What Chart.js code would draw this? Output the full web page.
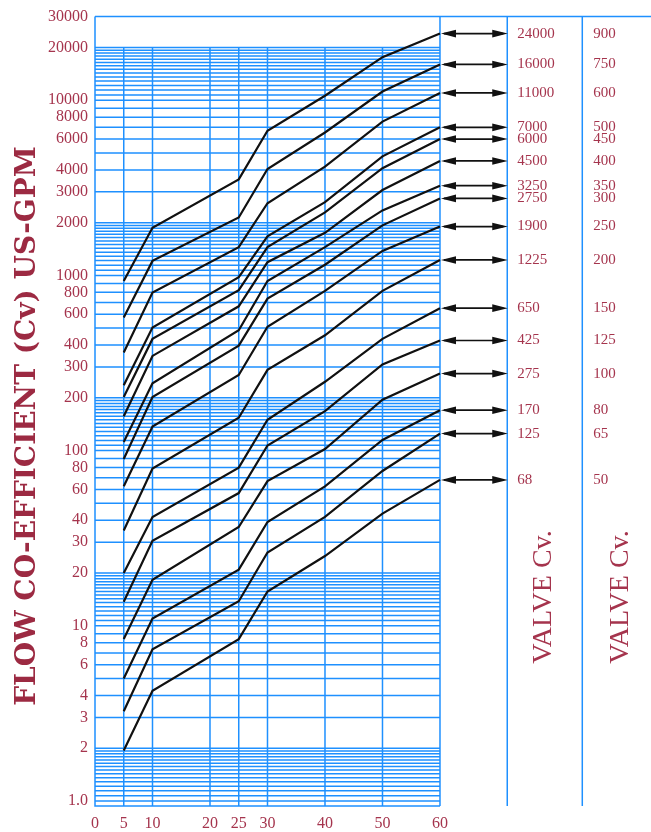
<!DOCTYPE html>
<html>
<head>
<meta charset="utf-8">
<script src="https://cdn.jsdelivr.net/npm/chart.js@4.4.1/dist/chart.umd.min.js"></script>
<style>
  html, body { margin: 0; padding: 0; background: #ffffff; }
  #wrap { width: 651px; height: 832px; position: relative; }
</style>
</head>
<body>
<div id="wrap"><canvas id="chart"></canvas></div>
<script>
// ---------------- DATA ----------------
const xPositions   = [5, 10, 25, 30, 40, 50, 60];
const xTickValues  = [0, 5, 10, 20, 25, 30, 40, 50, 60];
const yTickValues  = [1, 2, 3, 4, 6, 8, 10, 20, 30, 40, 60, 80, 100, 200, 300, 400, 600, 800,
                      1000, 2000, 3000, 4000, 6000, 8000, 10000, 20000, 30000];
const valveSizes   = [900, 750, 600, 500, 450, 400, 350, 300, 250, 200, 150, 125, 100, 80, 65, 50];
const valveCv      = [24000, 16000, 11000, 7000, 6000, 4500, 3250, 2750, 1900, 1225, 650, 425, 275, 170, 125, 68];

const cv900 = [930, 1870, 3530, 6690, 10600, 17600, 24000];
const cv750 = [574, 1210, 2140, 4050, 6540, 11200, 16000];
const cv600 = [363, 798, 1450, 2580, 4180, 7550, 11000];
const cv500 = [236, 504, 977, 1670, 2620, 4780, 7000];
const cv450 = [202, 434, 824, 1450, 2290, 4090, 6000];
const cv400 = [157, 347, 666, 1190, 1750, 3070, 4500];
const cv350 = [112, 242, 486, 928, 1450, 2350, 3250];
const cv300 = [89.5, 202, 397, 737, 1150, 1930, 2750];
const cv250 = [62.5, 137, 270, 509, 816, 1380, 1900];
const cv200 = [35, 79, 154, 289, 455, 816, 1225];
const cv150 = [20, 41.8, 79.9, 150, 247, 434, 650];
const cv125 = [13.7, 30.6, 57.2, 107, 168, 310, 425];
const cv100 = [8.4, 18.3, 36.6, 66.9, 102, 195, 275];
const cv80  = [5.0, 11.0, 20.9, 39.1, 62.5, 115, 170];
const cv65  = [3.25, 7.33, 13.8, 26.2, 41.8, 76.5, 125];
const cv50  = [1.94, 4.26, 8.39, 15.7, 25.0, 43.7, 68];

const seriesValues = [cv900, cv750, cv600, cv500, cv450, cv400, cv350, cv300,
                      cv250, cv200, cv150, cv125, cv100, cv80, cv65, cv50];

// ---------------- STYLE / LAYOUT ----------------
const BLUE = '#1e90ff';
const RED = '#a5344d';
const TITLE_RED = '#9c2a42';
const Y_MIN = 0.936, Y_MAX = 30000;
const X_MAX = 96.7;            // extends the plot to include the right-hand panel
const PANEL_X = [71.7, 84.75]; // panel dividers in x units
const GRID_TOP_VALUE = 20000;
const interiorVerticals = [5, 10, 20, 25, 30, 40, 50];
const DENSE = 14;

// log graph-paper rulings
const gridValues = [];
[1, 10, 100, 1000, 10000].forEach(d => {
  for (let k = 0; k <= DENSE; k++) gridValues.push(d * (1 + k / DENSE));
  if (d < 10000) for (let m = 3; m <= 9; m++) gridValues.push(d * m);
});

const serifTick = { family: '"Liberation Serif", "Times New Roman", serif', size: 16 };

const paperPlugin = {
  id: 'paper',
  beforeDatasetsDraw(chart) {
    const { ctx, chartArea: a, scales: { x, y } } = chart;
    const x0 = x.getPixelForValue(0), x60 = x.getPixelForValue(60);
    const yTop = y.getPixelForValue(Y_MAX), yBot = a.bottom;
    const yGridTop = y.getPixelForValue(GRID_TOP_VALUE);
    ctx.save();
    ctx.strokeStyle = BLUE;
    ctx.lineWidth = 1.5;
    ctx.beginPath();
    gridValues.forEach(v => {
      const py = y.getPixelForValue(v);
      ctx.moveTo(x0, py); ctx.lineTo(x60, py);
    });
    interiorVerticals.forEach(v => {
      const px = x.getPixelForValue(v);
      ctx.moveTo(px, yGridTop); ctx.lineTo(px, yBot);
    });
    ctx.moveTo(x0, yTop); ctx.lineTo(a.right, yTop);
    ctx.moveTo(x0, yTop); ctx.lineTo(x0, yBot); ctx.lineTo(x60, yBot);
    ctx.moveTo(x60, yTop); ctx.lineTo(x60, yBot);
    PANEL_X.forEach(v => {
      const px = x.getPixelForValue(v);
      ctx.moveTo(px, yTop); ctx.lineTo(px, yBot);
    });
    ctx.stroke();
    ctx.restore();
  },
  afterDatasetsDraw(chart) {
    const { ctx, scales: { x, y } } = chart;
    const xa = x.getPixelForValue(60);
    const xb = x.getPixelForValue(PANEL_X[0]);
    const xc = x.getPixelForValue(PANEL_X[1]);
    ctx.save();
    valveCv.forEach((cv, i) => {
      const py = y.getPixelForValue(cv);
      ctx.strokeStyle = '#111';
      ctx.fillStyle = '#111';
      ctx.lineWidth = 1.7;
      ctx.beginPath();
      ctx.moveTo(xa + 4, py); ctx.lineTo(xb - 4, py);
      ctx.stroke();
      ctx.beginPath();
      ctx.moveTo(xa + 1, py); ctx.lineTo(xa + 16, py - 3.8); ctx.lineTo(xa + 16, py + 3.8); ctx.closePath();
      ctx.moveTo(xb + 0.5, py); ctx.lineTo(xb - 15, py - 3.8); ctx.lineTo(xb - 15, py + 3.8); ctx.closePath();
      ctx.fill();
      ctx.fillStyle = RED;
      ctx.font = '15px "Liberation Serif", serif';
      ctx.textAlign = 'left';
      ctx.textBaseline = 'middle';
      ctx.fillText(String(cv), xb + 10, py);
      ctx.fillText(String(valveSizes[i]), xc + 11, py);
    });
    // vertical panel captions
    ctx.fillStyle = RED;
    ctx.font = '28px "Liberation Serif", serif';
    ctx.textAlign = 'center';
    ctx.textBaseline = 'middle';
    [(xb + xc) / 2 - 1, xc + 38].forEach(cx => {
      ctx.save();
      ctx.translate(cx, 597);
      ctx.rotate(-Math.PI / 2);
      ctx.fillText('VALVE Cv.', 0, 0);
      ctx.restore();
    });
    // y-axis title
    ctx.fillStyle = TITLE_RED;
    ctx.font = 'bold 28px "DejaVu Serif", serif';
    ctx.save();
    ctx.translate(28, 426);
    ctx.rotate(-Math.PI / 2);
    ctx.fillText('FLOW CO-EFFICIENT (Cv) US-GPM', 0, 0);
    ctx.restore();
    ctx.restore();
  }
};

const datasets = seriesValues.map((vals, i) => ({
  label: String(valveSizes[i]),
  data: xPositions.map((xv, j) => ({ x: xv, y: vals[j] })),
  borderColor: '#111',
  borderWidth: 2.2,
  pointRadius: 0,
  tension: 0,
  fill: false
}));

new Chart(document.getElementById('chart'), {
  type: 'line',
  data: { datasets },
  options: {
    responsive: true,
    maintainAspectRatio: false,
    animation: false,
    events: [],
    layout: { padding: { top: 16, left: 0, right: 0, bottom: 0 } },
    plugins: { legend: { display: false }, tooltip: { enabled: false } },
    scales: {
      x: {
        type: 'linear',
        min: 0, max: X_MAX,
        grid: { display: false, drawTicks: false },
        border: { display: false },
        afterBuildTicks: s => { s.ticks = xTickValues.map(v => ({ value: v })); },
        afterFit: s => { s.height = 26; },
        ticks: { autoSkip: false, maxRotation: 0, padding: 8, color: RED, font: serifTick,
                 callback: v => String(v) }
      },
      y: {
        type: 'logarithmic',
        min: Y_MIN, max: Y_MAX,
        grid: { display: false, drawTicks: false },
        border: { display: false },
        afterBuildTicks: s => { s.ticks = yTickValues.map(v => ({ value: v })); },
        afterFit: s => { s.width = 95; },
        ticks: { autoSkip: false, padding: 7, color: RED, font: serifTick,
                 callback: v => (v === 1 ? '1.0' : String(v)) }
      }
    }
  },
  plugins: [paperPlugin]
});
</script>
</body>
</html>
